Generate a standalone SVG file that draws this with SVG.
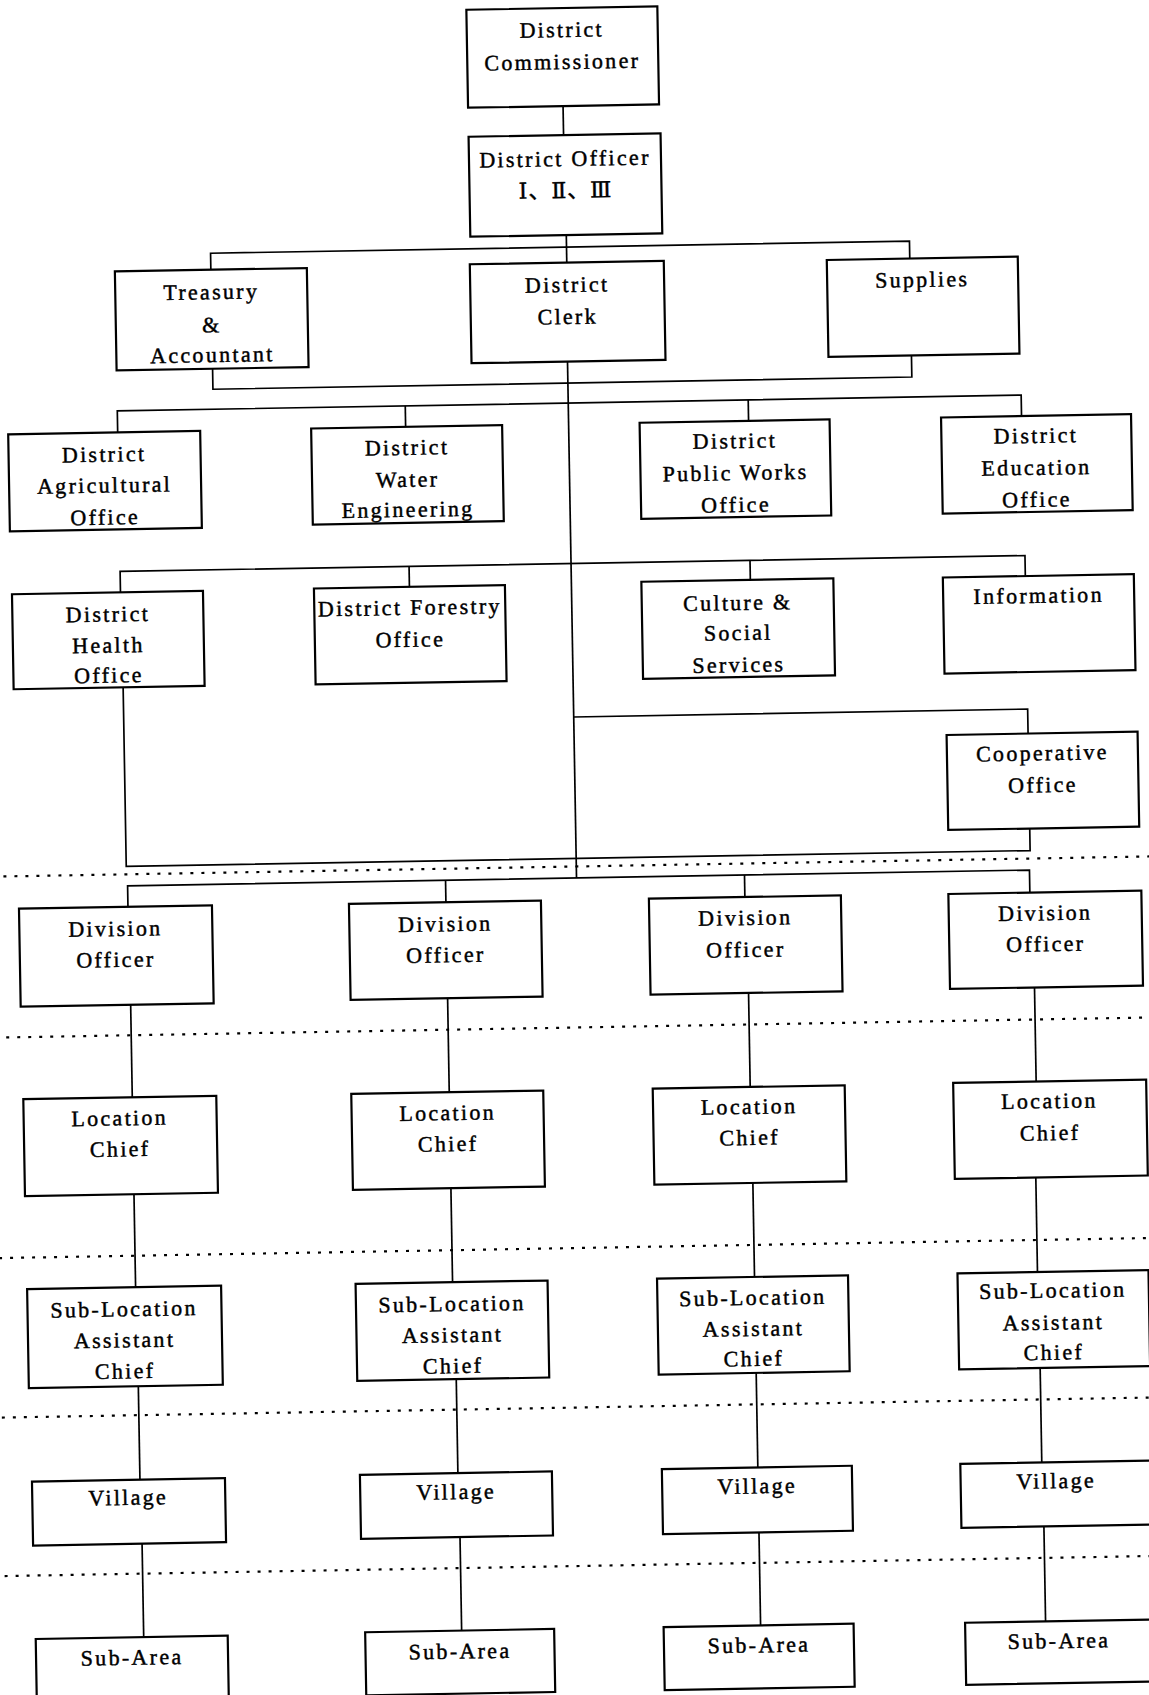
<svg xmlns="http://www.w3.org/2000/svg" width="1149" height="1695" viewBox="0 0 1149 1695">
<style>
.box rect{fill:#fff;stroke:#000;stroke-width:2.2}
.box text{font-family:"Liberation Serif","DejaVu Serif","Noto Sans CJK SC",serif;font-size:22px;letter-spacing:2.3px;text-anchor:middle;fill:#000;stroke:#000;stroke-width:0.45}
.conn path{fill:none;stroke:#000;stroke-width:1.7}
.dots path{fill:none;stroke:#000;stroke-width:2.2;stroke-dasharray:3 8}
</style>
<rect x="0" y="0" width="1149" height="1695" fill="#fff"/>
<g transform="rotate(-1 574 848)">
<g class="dots">
<path d="M-30 866.5H1180"/>
<path d="M-30 1027.5H1180"/>
<path d="M-30 1248H1180"/>
<path d="M-30 1407.5H1180"/>
<path d="M-30 1566H1180"/>
</g>
<g class="conn">
<path d="M576 106V135"/>
<path d="M577 235V262.5"/>
<path d="M221 263.5V247H920V264.5"/>
<path d="M221 362.5V383H920V361.5"/>
<path d="M576 361.5V878"/>
<path d="M125 424.5V403H1029V424"/>
<path d="M413 403V424"/>
<path d="M756 403V424"/>
<path d="M125 584.5V563.5H1030V584"/>
<path d="M414 563.5V584"/>
<path d="M755 563.5V583"/>
<path d="M576 717H1030V741.5"/>
<path d="M1030 836.5V858.5H126V679.5"/>
<path d="M127 899V878H1029V900.5"/>
<path d="M445 878V900"/>
<path d="M744 878V900"/>
<path d="M128 997V1089.5"/>
<path d="M445 996V1090"/>
<path d="M746 996V1090"/>
<path d="M1032 995.5V1089.5"/>
<path d="M128 1186.5V1279.5"/>
<path d="M445 1186V1280"/>
<path d="M747 1186V1280"/>
<path d="M1030 1185.5V1280"/>
<path d="M129 1378.5V1472"/>
<path d="M447 1377V1471"/>
<path d="M747 1376V1470.5"/>
<path d="M1031 1376V1470.5"/>
<path d="M130 1536V1629.5"/>
<path d="M448 1535V1628.5"/>
<path d="M747 1535.5V1628.5"/>
<path d="M1032 1534.5V1629.5"/>
</g>
<g id="district-commissioner" class="box"><rect x="481" y="8" width="191" height="98"/><text x="576" y="37">District</text><text x="576" y="69">Commissioner</text></g>
<g id="district-officer" class="box"><rect x="481" y="135" width="192" height="100"/><text x="577" y="166">District Officer</text><text x="577" y="198" style="letter-spacing:1px">Ⅰ、Ⅱ、Ⅲ</text></g>
<g id="treasury" class="box"><rect x="125" y="263.5" width="192" height="99"/><text x="221" y="293">Treasury</text><text x="221" y="326">&amp;</text><text x="221" y="356">Accountant</text></g>
<g id="district-clerk" class="box"><rect x="480" y="262.5" width="194" height="99"/><text x="577" y="292">District</text><text x="577" y="324">Clerk</text></g>
<g id="supplies" class="box"><rect x="837" y="264.5" width="191" height="97"/><text x="932" y="293">Supplies</text></g>
<g id="agricultural" class="box"><rect x="15.5" y="424.5" width="192" height="97"/><text x="111" y="453.5">District</text><text x="111" y="484.5">Agricultural</text><text x="111" y="516.5">Office</text></g>
<g id="water" class="box"><rect x="318.5" y="424" width="191" height="96"/><text x="414" y="452">District</text><text x="414" y="484">Water</text><text x="414" y="514">Engineering</text></g>
<g id="public-works" class="box"><rect x="647" y="424" width="190" height="96"/><text x="742" y="451">District</text><text x="742" y="483">Public Works</text><text x="742" y="515">Office</text></g>
<g id="education" class="box"><rect x="948.5" y="424" width="190" height="96"/><text x="1043" y="451">District</text><text x="1043" y="483">Education</text><text x="1043" y="515">Office</text></g>
<g id="health" class="box"><rect x="16.5" y="584.5" width="191" height="95"/><text x="112" y="613.5">District</text><text x="112" y="644.5">Health</text><text x="112" y="674.5">Office</text></g>
<g id="forestry" class="box"><rect x="318.5" y="584" width="191" height="96"/><text x="414" y="612">District Forestry</text><text x="414" y="644">Office</text></g>
<g id="culture" class="box"><rect x="646" y="583" width="192" height="97"/><text x="742" y="613">Culture &amp;</text><text x="742" y="643">Social</text><text x="742" y="675">Services</text></g>
<g id="information" class="box"><rect x="947.5" y="584" width="191" height="96"/><text x="1043" y="611">Information</text></g>
<g id="cooperative" class="box"><rect x="948.5" y="741.5" width="191" height="95"/><text x="1044" y="768.5">Cooperative</text><text x="1044" y="800.5">Office</text></g>
<g id="division-1" class="box"><rect x="18" y="899" width="193" height="98"/><text x="114" y="928">Division</text><text x="114" y="959">Officer</text></g>
<g id="division-2" class="box"><rect x="348" y="900" width="192" height="96"/><text x="444" y="929">Division</text><text x="444" y="960">Officer</text></g>
<g id="division-3" class="box"><rect x="648" y="900" width="192" height="96"/><text x="744" y="928">Division</text><text x="744" y="960">Officer</text></g>
<g id="division-4" class="box"><rect x="947.5" y="900.5" width="193" height="95"/><text x="1044" y="928.5">Division</text><text x="1044" y="959.5">Officer</text></g>
<g id="location-1" class="box"><rect x="19" y="1089.5" width="193" height="97"/><text x="115" y="1117.5">Location</text><text x="115" y="1148.5">Chief</text></g>
<g id="location-2" class="box"><rect x="347" y="1090" width="192" height="96"/><text x="443" y="1118">Location</text><text x="443" y="1149">Chief</text></g>
<g id="location-3" class="box"><rect x="648.5" y="1090" width="192" height="96"/><text x="744.5" y="1117">Location</text><text x="744.5" y="1148">Chief</text></g>
<g id="location-4" class="box"><rect x="949" y="1089.5" width="193" height="96"/><text x="1045" y="1116.5">Location</text><text x="1045" y="1148.5">Chief</text></g>
<g id="sublocation-1" class="box"><rect x="19.5" y="1279.5" width="194" height="99"/><text x="116" y="1308.5">Sub-Location</text><text x="116" y="1339.5">Assistant</text><text x="116" y="1370.5">Chief</text></g>
<g id="sublocation-2" class="box"><rect x="348" y="1280" width="192" height="97"/><text x="444" y="1309">Sub-Location</text><text x="444" y="1340">Assistant</text><text x="444" y="1371">Chief</text></g>
<g id="sublocation-3" class="box"><rect x="649.5" y="1280" width="191" height="96"/><text x="745" y="1308">Sub-Location</text><text x="745" y="1339">Assistant</text><text x="745" y="1369">Chief</text></g>
<g id="sublocation-4" class="box"><rect x="950" y="1280" width="191" height="96"/><text x="1045" y="1306">Sub-Location</text><text x="1045" y="1338">Assistant</text><text x="1045" y="1368">Chief</text></g>
<g id="village-1" class="box"><rect x="21" y="1472" width="193" height="64"/><text x="117" y="1497">Village</text></g>
<g id="village-2" class="box"><rect x="349" y="1471" width="192" height="64"/><text x="445" y="1497">Village</text></g>
<g id="village-3" class="box"><rect x="651" y="1470.5" width="190" height="65"/><text x="746" y="1496.5">Village</text></g>
<g id="village-4" class="box"><rect x="949.5" y="1470.5" width="192" height="64"/><text x="1045" y="1496.5">Village</text></g>
<g id="subarea-1" class="box"><rect x="22" y="1629.5" width="192" height="63"/><text x="118" y="1657">Sub-Area</text></g>
<g id="subarea-2" class="box"><rect x="351.5" y="1628.5" width="189" height="63"/><text x="446" y="1656.5">Sub-Area</text></g>
<g id="subarea-3" class="box"><rect x="650" y="1628.5" width="190" height="63"/><text x="745" y="1655.5">Sub-Area</text></g>
<g id="subarea-4" class="box"><rect x="951.5" y="1629.5" width="188" height="62"/><text x="1045" y="1656.5">Sub-Area</text></g>
</g>
</svg>
